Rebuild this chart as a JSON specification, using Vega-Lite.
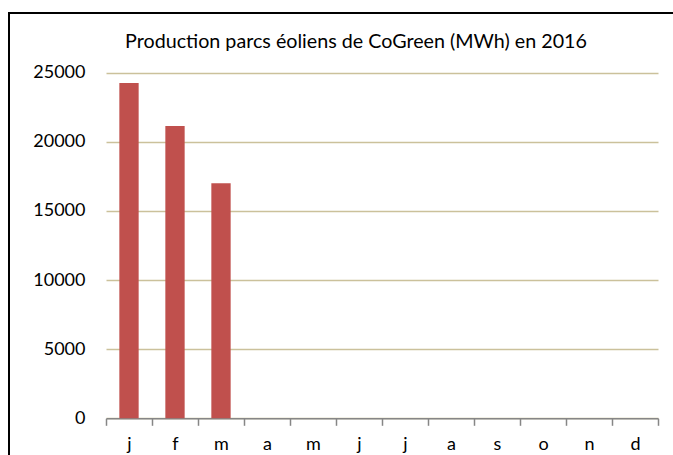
{
  "$schema": "https://vega.github.io/schema/vega-lite/v6.json",
  "autosize": {"type": "none"},
  "padding": {"left": 9, "top": 13, "right": 0, "bottom": 0},
  "width": 694,
  "height": 460,
  "background": "white",
  "title": {
    "text": "Production parcs éoliens de CoGreen (MWh) en 2016",
    "font": "Lato",
    "fontSize": 19.7,
    "fontWeight": "normal",
    "color": "#000000",
    "anchor": "middle",
    "frame": "group",
    "baseline": "alphabetic",
    "offset": -55
  },
  "data": {
    "values": [
      {"mois": "janv", "production": 24250},
      {"mois": "févr", "production": 21150},
      {"mois": "mars", "production": 17000}
    ]
  },
  "mark": {"type": "bar", "color": "#C0504D", "width": {"band": 0.42}},
  "encoding": {
    "x": {
      "field": "mois",
      "type": "nominal",
      "sort": null,
      "scale": {
        "domain": ["janv", "févr", "mars", "avr", "mai", "juin", "juil", "août", "sept", "oct", "nov", "déc"],
        "range": [97, 649],
        "paddingInner": 0,
        "paddingOuter": 0
      },
      "axis": {
        "title": null,
        "orient": "bottom",
        "offset": -54.7,
        "grid": false,
        "domainColor": "#868686",
        "domainWidth": 1.5,
        "tickColor": "#868686",
        "tickWidth": 1.5,
        "tickSize": 7,
        "tickBand": "extent",
        "labelExpr": "isString(datum.value) ? substring(datum.value, 0, 1) : ''",
        "labelFont": "Lato",
        "labelFontSize": 18,
        "labelColor": "#000000",
        "labelAngle": 0,
        "labelBaseline": "alphabetic",
        "labelPadding": 24
      }
    },
    "y": {
      "field": "production",
      "type": "quantitative",
      "scale": {"domain": [0, 25000], "range": [405.3, 59.7], "nice": false},
      "axis": {
        "title": null,
        "values": [0, 5000, 10000, 15000, 20000, 25000],
        "format": "d",
        "domain": false,
        "ticks": false,
        "tickSize": 0,
        "offset": -97,
        "labelPadding": 21,
        "labelFont": "Lato",
        "labelFontSize": 18,
        "labelColor": "#000000",
        "grid": true,
        "gridColor": "#CBC19B",
        "gridWidth": 1.5
      }
    }
  },
  "config": {"view": {"stroke": "#000000", "strokeWidth": 2}}
}
